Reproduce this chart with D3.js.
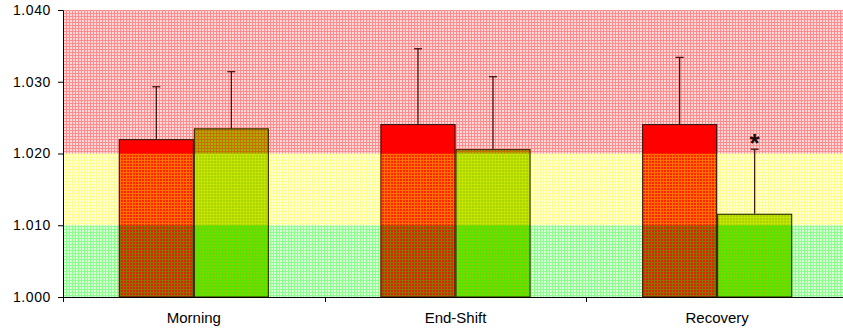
<!DOCTYPE html>
<html>
<head>
  <script type="text/javascript" src="https://cdn.jsdelivr.net/npm/d3@7/dist/d3.min.js"></script>
  <style>
    body { margin: 0; background: #fff; }
    svg { display: block; font-family: 'Liberation Sans', Arial, sans-serif; }
  </style>
</head>
<body>
  <svg width="843" height="329"></svg>
<script>
  // values
  const categories = ['Morning', 'End-Shift', 'Recovery'];
  const series = ['red', 'green'];
  const redMeans = [1.0220, 1.0241, 1.0241];
  const redSD = [0.0073, 0.0105, 0.0093];
  const greenMeans = [1.0235, 1.0206, 1.0116];
  const greenSD = [0.0079, 0.0101, 0.0090];
  const significant = ['Recovery'];   // asterisk over the green bar
  const yTicks = [1.000, 1.010, 1.020, 1.030, 1.040];
  const zoneLow = [1.000, 1.010, 1.020];
  const zoneHigh = [1.010, 1.020, 1.040];

  const margin = { top: 10, left: 63 };
  const width = 785;
  const height = 287;

  const svg = d3.select('svg');
  const chart = svg.append('g')
    .attr('transform', `translate(${margin.left}, ${margin.top})`);

  const yScale = d3.scaleLinear()
    .domain([1.000, 1.040])
    .range([height, 0]);

  const xScale = d3.scaleBand()
    .domain(categories)
    .range([0, width])
    .padding(0);

  const innerScale = d3.scaleBand()
    .domain(series)
    .range([0, xScale.bandwidth()])
    .paddingInner(0)
    .paddingOuter(0.744);

  const rows = [];
  categories.forEach((c, i) => {
    rows.push({ cat: c, s: 'red', mean: redMeans[i], sd: redSD[i] });
    rows.push({ cat: c, s: 'green', mean: greenMeans[i], sd: greenSD[i] });
  });

  const barFill = { red: '#ff0000', green: '#99cc00' };
  const zoneColor = ['#00ff00', '#ffff00', '#ff0000'];

  // grid patterns for the zones
  const defs = svg.append('defs');
  zoneColor.forEach((col, i) => {
    const p = defs.append('pattern')
      .attr('id', 'zone' + i)
      .attr('patternUnits', 'userSpaceOnUse')
      .attr('width', 3)
      .attr('height', 3);
    p.append('rect').attr('width', 3).attr('height', 3)
      .attr('fill', col).attr('fill-opacity', 0.15);
    p.append('rect').attr('width', 3).attr('height', 1)
      .attr('fill', col).attr('fill-opacity', 0.35);
    p.append('rect').attr('y', 1).attr('width', 1).attr('height', 2)
      .attr('fill', col).attr('fill-opacity', 0.35);
  });

  const bx = d => xScale(d.cat) + innerScale(d.s);

  // bars
  chart.selectAll('.bar')
    .data(rows)
    .enter()
    .append('rect')
    .attr('class', 'bar')
    .attr('x', bx)
    .attr('y', d => yScale(d.mean))
    .attr('width', innerScale.bandwidth())
    .attr('height', d => height - yScale(d.mean))
    .attr('fill', d => barFill[d.s]);

  // zone overlay
  chart.selectAll('.zone')
    .data(zoneLow)
    .enter()
    .append('rect')
    .attr('class', 'zone')
    .attr('x', 0)
    .attr('y', (d, i) => yScale(zoneHigh[i]))
    .attr('width', width)
    .attr('height', (d, i) => yScale(d) - yScale(zoneHigh[i]))
    .attr('fill', (d, i) => `url(#zone${i})`);

  // outlines
  chart.selectAll('.outline')
    .data(rows)
    .enter()
    .append('rect')
    .attr('class', 'outline')
    .attr('x', d => bx(d) + 0.5)
    .attr('y', d => yScale(d.mean) + 0.5)
    .attr('width', innerScale.bandwidth() - 1)
    .attr('height', d => height - yScale(d.mean) - 0.5)
    .attr('fill', 'none')
    .attr('stroke', '#2a1a10')
    .attr('stroke-width', 1);

  // error bars (upper only)
  const err = chart.selectAll('.err')
    .data(rows)
    .enter()
    .append('g')
    .attr('class', 'err')
    .attr('stroke', '#3a0a0a')
    .attr('stroke-width', 1.2);
  err.append('line')
    .attr('x1', d => bx(d) + innerScale.bandwidth() / 2)
    .attr('x2', d => bx(d) + innerScale.bandwidth() / 2)
    .attr('y1', d => yScale(d.mean))
    .attr('y2', d => yScale(d.mean + d.sd));
  err.append('line')
    .attr('x1', d => bx(d) + innerScale.bandwidth() / 2 - 4)
    .attr('x2', d => bx(d) + innerScale.bandwidth() / 2 + 4)
    .attr('y1', d => yScale(d.mean + d.sd))
    .attr('y2', d => yScale(d.mean + d.sd));

  // asterisk
  chart.selectAll('.star')
    .data(rows.filter(d => d.s === 'green' && significant.includes(d.cat)))
    .enter()
    .append('text')
    .attr('class', 'star')
    .attr('x', d => bx(d) + innerScale.bandwidth() / 2)
    .attr('y', d => yScale(d.mean + d.sd) + 3)
    .attr('text-anchor', 'middle')
    .attr('font-size', 26)
    .attr('font-weight', 'bold')
    .attr('fill', '#1a0a0a')
    .text('*');

  // y axis
  const yAxis = chart.append('g')
    .call(d3.axisLeft(yScale).tickValues(yTicks).tickFormat(d3.format('.3f'))
      .tickSize(5).tickPadding(7));
  yAxis.selectAll('text')
    .attr('font-size', 14)
    .attr('letter-spacing', '0.6px')
    .attr('fill', '#000');

  // x axis
  const xAxis = chart.append('g')
    .attr('transform', `translate(0, ${height})`)
    .call(d3.axisBottom(xScale).tickSize(0).tickPadding(15));
  xAxis.selectAll('text')
    .attr('font-size', 15)
    .attr('fill', '#000');
  xAxis.selectAll('.boundary')
    .data(categories)
    .enter()
    .append('line')
    .attr('class', 'boundary')
    .attr('x1', d => Math.round(xScale(d)) + 0.5)
    .attr('x2', d => Math.round(xScale(d)) + 0.5)
    .attr('y1', 0)
    .attr('y2', 5)
    .attr('stroke', '#000');

  svg.selectAll('.domain').attr('stroke', '#000');
  svg.selectAll('.tick line').attr('stroke', '#000');
</script>
</body>
</html>
